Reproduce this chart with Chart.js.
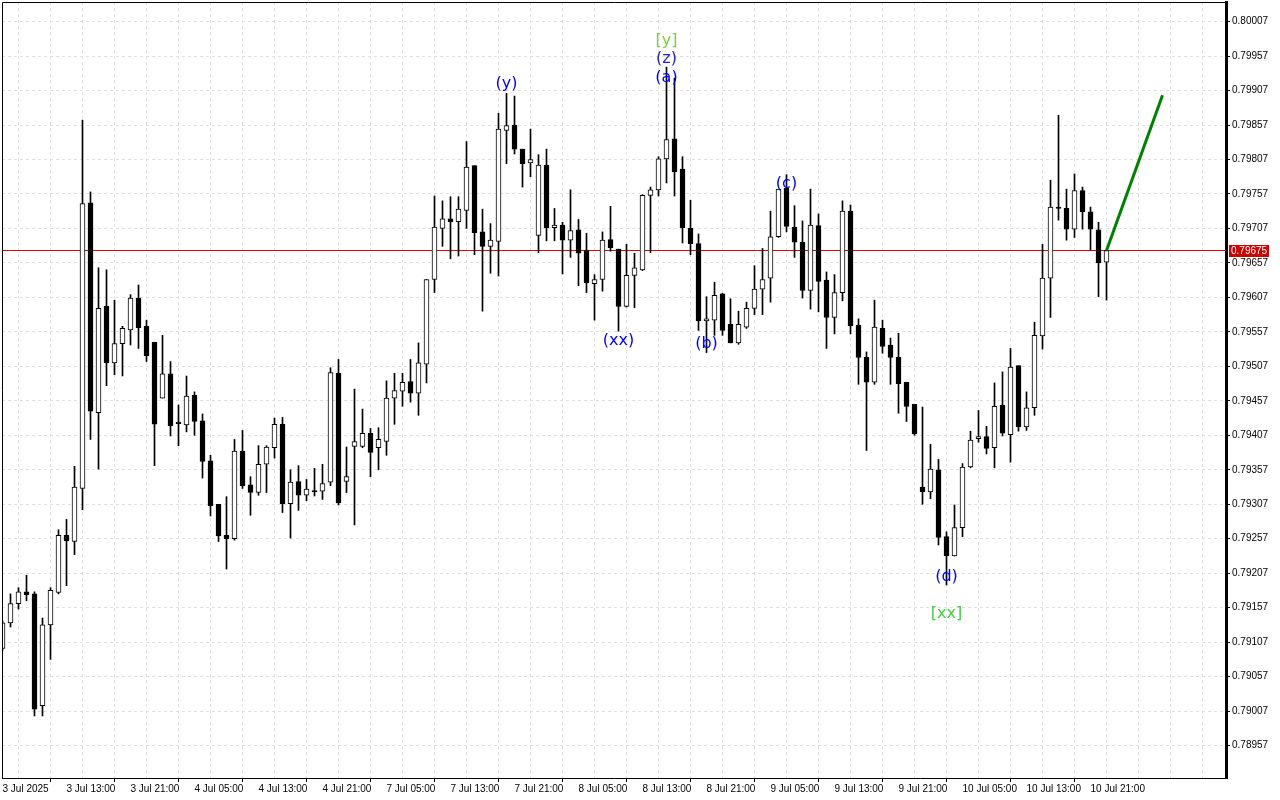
<!DOCTYPE html>
<html>
<head>
<meta charset="utf-8">
<script src="https://cdn.jsdelivr.net/npm/chart.js@4.4.1/dist/chart.umd.min.js"></script>
<style>
  html, body { margin: 0; padding: 0; background: #fff; }
  #wrap { width: 1280px; height: 800px; }
</style>
</head>
<body>
<div id="wrap"><canvas id="chart" width="1280" height="800"></canvas></div>
<script>
/* ----------------------------------------- */
/*          H1 candles, 3 Jul - 10 Jul        */
/* ----------------------------------------- */

// candle 0 = 3 Jul 2025 05:00, one bar per hour
const open_prices = [
  0.79098, 0.79135, 0.79163, 0.79180, 0.79177, 0.79015, 0.79132, 0.79179, 0.79262, 0.79253,
  0.79330, 0.79744, 0.79440, 0.79594, 0.79512, 0.79540, 0.79560, 0.79606, 0.79565, 0.79542,
  0.79461, 0.79496, 0.79426, 0.79422, 0.79465, 0.79428, 0.79370, 0.79307, 0.79262, 0.79257,
  0.79384, 0.79335, 0.79324, 0.79365, 0.79389, 0.79423, 0.79308, 0.79340, 0.79320, 0.79327,
  0.79326, 0.79339, 0.79497, 0.79340, 0.79391, 0.79391, 0.79410, 0.79389, 0.79398, 0.79461,
  0.79471, 0.79485, 0.79468, 0.79510, 0.79633, 0.79707, 0.79721, 0.79717, 0.79733, 0.79798,
  0.79702, 0.79681, 0.79688, 0.79849, 0.79857, 0.79822, 0.79802, 0.79697, 0.79799, 0.79708,
  0.79712, 0.79690, 0.79705, 0.79675, 0.79627, 0.79633, 0.79691, 0.79677, 0.79594, 0.79639,
  0.79647, 0.79755, 0.79763, 0.79808, 0.79837, 0.79793, 0.79707, 0.79685, 0.79573, 0.79574,
  0.79612, 0.79568, 0.79541, 0.79564, 0.79591, 0.79619, 0.79635, 0.79695, 0.79765, 0.79709,
  0.79687, 0.79617, 0.79711, 0.79632, 0.79578, 0.79614, 0.79732, 0.79567, 0.79520, 0.79484,
  0.79562, 0.79538, 0.79520, 0.79484, 0.79452, 0.79332, 0.79325, 0.79357, 0.79260, 0.79232,
  0.79273, 0.79361, 0.79402, 0.79405, 0.79389, 0.79451, 0.79408, 0.79508, 0.79419, 0.79447,
  0.79551, 0.79635, 0.79738, 0.79736, 0.79706, 0.79762, 0.79731, 0.79705, 0.79658,
];
const high_prices = [
  0.79138, 0.79177, 0.79186, 0.79204, 0.79180, 0.79142, 0.79186, 0.79270, 0.79285, 0.79362,
  0.79864, 0.79760, 0.79650, 0.79647, 0.79603, 0.79565, 0.79611, 0.79625, 0.79574, 0.79542,
  0.79552, 0.79514, 0.79451, 0.79493, 0.79470, 0.79438, 0.79378, 0.79307, 0.79318, 0.79401,
  0.79414, 0.79347, 0.79392, 0.79392, 0.79432, 0.79433, 0.79357, 0.79363, 0.79343, 0.79359,
  0.79365, 0.79505, 0.79517, 0.79390, 0.79474, 0.79445, 0.79417, 0.79418, 0.79486, 0.79497,
  0.79497, 0.79517, 0.79541, 0.79633, 0.79754, 0.79747, 0.79753, 0.79753, 0.79833, 0.79798,
  0.79735, 0.79714, 0.79874, 0.79903, 0.79899, 0.79822, 0.79851, 0.79814, 0.79822, 0.79736,
  0.79716, 0.79763, 0.79720, 0.79700, 0.79640, 0.79702, 0.79739, 0.79677, 0.79684, 0.79671,
  0.79756, 0.79767, 0.79811, 0.79941, 0.79925, 0.79811, 0.79748, 0.79699, 0.79608, 0.79629,
  0.79613, 0.79605, 0.79587, 0.79600, 0.79653, 0.79678, 0.79732, 0.79764, 0.79785, 0.79740,
  0.79718, 0.79764, 0.79728, 0.79644, 0.79640, 0.79747, 0.79741, 0.79576, 0.79528, 0.79603,
  0.79574, 0.79548, 0.79555, 0.79484, 0.79452, 0.79448, 0.79394, 0.79372, 0.79267, 0.79306,
  0.79366, 0.79413, 0.79443, 0.79420, 0.79483, 0.79499, 0.79533, 0.79508, 0.79470, 0.79571,
  0.79684, 0.79777, 0.79871, 0.79764, 0.79786, 0.79767, 0.79738, 0.79716, 0.79676,
];
const low_prices = [
  0.79095, 0.79129, 0.79155, 0.79167, 0.79000, 0.79000, 0.79082, 0.79177, 0.79189, 0.79234,
  0.79299, 0.79401, 0.79358, 0.79479, 0.79495, 0.79493, 0.79538, 0.79533, 0.79514, 0.79363,
  0.79461, 0.79406, 0.79392, 0.79412, 0.79407, 0.79345, 0.79290, 0.79253, 0.79213, 0.79255,
  0.79330, 0.79291, 0.79320, 0.79324, 0.79374, 0.79295, 0.79258, 0.79298, 0.79312, 0.79319,
  0.79314, 0.79334, 0.79306, 0.79324, 0.79277, 0.79389, 0.79347, 0.79357, 0.79378, 0.79423,
  0.79449, 0.79455, 0.79436, 0.79483, 0.79614, 0.79681, 0.79663, 0.79667, 0.79707, 0.79669,
  0.79587, 0.79642, 0.79638, 0.79801, 0.79815, 0.79767, 0.79782, 0.79672, 0.79689, 0.79689,
  0.79641, 0.79665, 0.79624, 0.79614, 0.79574, 0.79616, 0.79674, 0.79558, 0.79593, 0.79592,
  0.79646, 0.79672, 0.79754, 0.79773, 0.79754, 0.79686, 0.79669, 0.79559, 0.79527, 0.79552,
  0.79552, 0.79541, 0.79539, 0.79562, 0.79582, 0.79582, 0.79600, 0.79694, 0.79702, 0.79665,
  0.79606, 0.79590, 0.79586, 0.79533, 0.79554, 0.79602, 0.79554, 0.79481, 0.79385, 0.79481,
  0.79526, 0.79481, 0.79439, 0.79427, 0.79407, 0.79307, 0.79315, 0.79248, 0.79190, 0.79232,
  0.79260, 0.79360, 0.79397, 0.79380, 0.79360, 0.79406, 0.79368, 0.79413, 0.79414, 0.79436,
  0.79532, 0.79578, 0.79719, 0.79690, 0.79694, 0.79706, 0.79676, 0.79608, 0.79603,
];
const close_prices = [
  0.79135, 0.79163, 0.79180, 0.79176, 0.79010, 0.79132, 0.79182, 0.79262, 0.79254, 0.79332,
  0.79743, 0.79442, 0.79591, 0.79512, 0.79540, 0.79562, 0.79606, 0.79563, 0.79522, 0.79423,
  0.79496, 0.79421, 0.79424, 0.79464, 0.79427, 0.79369, 0.79305, 0.79261, 0.79257, 0.79384,
  0.79334, 0.79324, 0.79365, 0.79390, 0.79423, 0.79308, 0.79339, 0.79320, 0.79329, 0.79325,
  0.79337, 0.79498, 0.79309, 0.79347, 0.79398, 0.79410, 0.79382, 0.79401, 0.79461, 0.79472,
  0.79484, 0.79468, 0.79512, 0.79633, 0.79709, 0.79721, 0.79717, 0.79735, 0.79796, 0.79701,
  0.79681, 0.79690, 0.79851, 0.79856, 0.79822, 0.79801, 0.79807, 0.79799, 0.79708, 0.79712,
  0.79690, 0.79704, 0.79671, 0.79628, 0.79633, 0.79690, 0.79679, 0.79594, 0.79639, 0.79650,
  0.79755, 0.79763, 0.79808, 0.79836, 0.79789, 0.79708, 0.79685, 0.79573, 0.79576, 0.79610,
  0.79559, 0.79541, 0.79568, 0.79591, 0.79619, 0.79633, 0.79695, 0.79764, 0.79710, 0.79687,
  0.79617, 0.79712, 0.79630, 0.79578, 0.79614, 0.79732, 0.79566, 0.79520, 0.79484, 0.79564,
  0.79536, 0.79520, 0.79482, 0.79449, 0.79409, 0.79325, 0.79358, 0.79259, 0.79232, 0.79273,
  0.79361, 0.79400, 0.79405, 0.79388, 0.79449, 0.79410, 0.79506, 0.79419, 0.79447, 0.79552,
  0.79635, 0.79738, 0.79736, 0.79706, 0.79762, 0.79731, 0.79706, 0.79657, 0.79675,
];

// time axis labels, one every 8 bars
const time_labels = [
  "3 Jul 2025", "3 Jul 13:00", "3 Jul 21:00", "4 Jul 05:00", "4 Jul 13:00", "4 Jul 21:00",
  "7 Jul 05:00", "7 Jul 13:00", "7 Jul 21:00", "8 Jul 05:00", "8 Jul 13:00", "8 Jul 21:00",
  "9 Jul 05:00", "9 Jul 13:00", "9 Jul 21:00", "10 Jul 05:00", "10 Jul 13:00", "10 Jul 21:00",
];
const label_step = 8;
const grid_step = 4;

// price axis
const price_ticks = [
  0.78957, 0.79007, 0.79057, 0.79107, 0.79157, 0.79207, 0.79257, 0.79307, 0.79357, 0.79407,
  0.79457, 0.79507, 0.79557, 0.79607, 0.79657, 0.79707, 0.79757, 0.79807, 0.79857, 0.79907,
  0.79957, 0.80007,
];
const price_min = 0.7891;
const price_max = 0.800354;
const bar_min = -0.0625;
const bar_max = 152.9375;

// current bid line
const last_price = 0.79675;

// projection line
const forecast_idx = [138, 145];
const forecast_price = [0.79675, 0.799];

// wave labels
const wave_text = ["(y)", "[y]", "(z)", "(a)", "(xx)", "(b)", "(c)", "(d)", "[xx]"];
const wave_idx = [63, 83, 83, 83, 77, 88, 98, 118, 118];
const wave_price = [0.79916, 0.79979, 0.79953, 0.79926, 0.79544, 0.79539, 0.79772, 0.79202, 0.79148];
const wave_color = ["#0000ff", "#7ccc3c", "#2020d0", "#0000ff", "#0000ff", "#0000ff", "#0000ff", "#0000ff", "#44cc44"];

// build data
const wicks = high_prices.map((h, i) => ({ x: i, y: [low_prices[i], h] }));
const bodies = open_prices.map((o, i) => ({ x: i, y: [o, close_prices[i]] }));
const body_colors = open_prices.map((o, i) => (close_prices[i] >= o ? "#ffffff" : "#000000"));
const forecast_points = forecast_idx.map((v, i) => ({ x: v, y: forecast_price[i] }));

const grid_values = [];
for (let i = 0; i <= bar_max; i += grid_step) grid_values.push(i);

// frame on left / top
const framePlugin = {
  id: "frame",
  afterDraw(chart) {
    const { ctx, chartArea } = chart;
    ctx.save();
    ctx.strokeStyle = "#000";
    ctx.lineWidth = 1;
    ctx.beginPath();
    ctx.moveTo(chartArea.left + 0.5, chartArea.bottom);
    ctx.lineTo(chartArea.left + 0.5, chartArea.top + 0.5);
    ctx.lineTo(chartArea.right, chartArea.top + 0.5);
    ctx.stroke();
    ctx.restore();
  },
};

// wave text
const wavePlugin = {
  id: "waves",
  afterDatasetsDraw(chart) {
    const { ctx, scales } = chart;
    ctx.save();
    ctx.font = "16px 'DejaVu Sans'";
    ctx.textAlign = "center";
    ctx.textBaseline = "middle";
    wave_text.forEach((t, i) => {
      ctx.fillStyle = wave_color[i];
      ctx.fillText(t, scales.x.getPixelForValue(wave_idx[i]), scales.y.getPixelForValue(wave_price[i]));
    });
    ctx.restore();
  },
};

// red price tag on the axis
const priceTagPlugin = {
  id: "priceTag",
  afterDraw(chart) {
    const { ctx, scales, chartArea } = chart;
    const y = Math.round(scales.y.getPixelForValue(last_price));
    ctx.save();
    ctx.fillStyle = "#cc0000";
    ctx.fillRect(chartArea.right + 3, y - 6, 40, 12);
    ctx.fillStyle = "#fff";
    ctx.font = "10px 'Liberation Sans'";
    ctx.textBaseline = "middle";
    ctx.fillText(last_price.toFixed(5), chartArea.right + 5, y);
    ctx.restore();
  },
};

const ctx_chart = document.getElementById("chart").getContext("2d");
const chart = new Chart(ctx_chart, {
  type: "bar",
  data: {
    datasets: [
      {
        type: "line",
        data: [{ x: bar_min, y: last_price }, { x: bar_max, y: last_price }],
        borderColor: "#e00000",
        borderWidth: 1,
        pointRadius: 0,
        order: 4,
      },
      {
        data: wicks,
        backgroundColor: "#000",
        borderWidth: 0,
        barThickness: 1,
        grouped: false,
        order: 3,
      },
      {
        data: bodies,
        backgroundColor: body_colors,
        borderColor: "#000",
        borderWidth: 1,
        borderSkipped: false,
        barThickness: 5,
        minBarLength: 1,
        grouped: false,
        order: 2,
      },
      {
        type: "line",
        data: forecast_points,
        borderColor: "#008000",
        borderWidth: 3,
        pointRadius: 0,
        order: 1,
      },
    ],
  },
  options: {
    responsive: false,
    animation: false,
    layout: { padding: { left: 2, top: 2, right: 0, bottom: 0 } },
    plugins: { legend: { display: false }, tooltip: { enabled: false } },
    scales: {
      x: {
        type: "linear",
        min: bar_min,
        max: bar_max,
        offset: false,
        afterBuildTicks: (scale) => {
          scale.ticks = grid_values.map((v) => ({ value: v }));
        },
        afterFit: (scale) => {
          scale.height = 22;
          scale.paddingLeft = 0;
          scale.paddingRight = 0;
        },
        ticks: {
          autoSkip: false,
          maxRotation: 0,
          align: "start",
          padding: 1,
          color: "#000",
          font: { family: "'Liberation Sans'", size: 10 },
          callback: (v) => (v % label_step === 0 && v / label_step < time_labels.length ? time_labels[v / label_step] : ""),
        },
        grid: {
          color: "#e0e0e0",
          tickLength: 4,
          tickBorderDash: [],
          tickColor: (c) =>
            c.tick && c.tick.value % label_step === 0 && c.tick.value / label_step < time_labels.length ? "#000" : "rgba(0,0,0,0)",
        },
        border: { display: true, color: "#000", width: 1, dash: [3, 3] },
      },
      y: {
        type: "linear",
        position: "right",
        min: price_min,
        max: price_max,
        afterBuildTicks: (scale) => {
          scale.ticks = price_ticks.map((v) => ({ value: v }));
        },
        afterFit: (scale) => {
          scale.width = 54;
          scale.paddingTop = 0;
          scale.paddingBottom = 0;
        },
        ticks: {
          autoSkip: false,
          padding: 2,
          color: "#000",
          font: { family: "'Liberation Sans'", size: 10 },
          callback: (v) => Number(v).toFixed(5),
        },
        grid: {
          color: "#e0e0e0",
          tickLength: 4,
          tickColor: "#000",
          tickBorderDash: [],
        },
        border: { display: true, color: "#000", width: 3, dash: [3, 3] },
      },
    },
  },
  plugins: [framePlugin, wavePlugin, priceTagPlugin],
});
</script>
</body>
</html>
